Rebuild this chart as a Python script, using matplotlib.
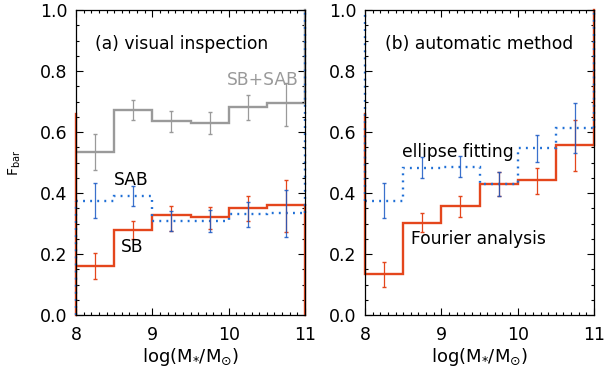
import numpy as np
import matplotlib
matplotlib.use('Agg')
import matplotlib.pyplot as plt
from matplotlib.ticker import MultipleLocator

# bins in log(M*/Msun)
edges = [8.0, 8.5, 9.0, 9.5, 10.0, 10.5, 11.0]
centers = [8.25, 8.75, 9.25, 9.75, 10.25, 10.75]

# (a) visual inspection
a_sbsab = [0.533, 0.672, 0.636, 0.631, 0.683, 0.696]
a_sbsab_lo = [0.475, 0.639, 0.601, 0.592, 0.639, 0.620]
a_sbsab_hi = [0.592, 0.705, 0.669, 0.667, 0.721, 0.760]

a_sab = [0.375, 0.391, 0.309, 0.309, 0.330, 0.333]
a_sab_lo = [0.317, 0.358, 0.276, 0.273, 0.287, 0.255]
a_sab_hi = [0.432, 0.424, 0.341, 0.344, 0.371, 0.410]

a_sb = [0.162, 0.279, 0.328, 0.320, 0.350, 0.361]
a_sb_lo = [0.117, 0.248, 0.275, 0.282, 0.309, 0.273]
a_sb_hi = [0.202, 0.309, 0.358, 0.355, 0.391, 0.443]

# (b) automatic method
b_four = [0.134, 0.303, 0.357, 0.428, 0.443, 0.556]
b_four_lo = [0.093, 0.271, 0.322, 0.390, 0.397, 0.473]
b_four_hi = [0.173, 0.333, 0.390, 0.468, 0.483, 0.639]

b_ell = [0.375, 0.483, 0.486, 0.430, 0.546, 0.612]
b_ell_lo = [0.317, 0.448, 0.453, 0.390, 0.502, 0.530]
b_ell_hi = [0.432, 0.517, 0.522, 0.468, 0.590, 0.694]

# vertical end segments drawn along the frame in the original (x, y0, y1)
a_red_ends = [(8.0, 0.0, 0.66), (11.0, 0.0, 0.361)]
a_blue_ends = [(8.0, 0.0, 0.375), (11.0, 0.333, 1.0)]
a_gray_ends = [(11.0, 0.696, 1.0)]
b_red_ends = [(8.0, 0.134, 0.66), (11.0, 0.556, 1.0)]
b_blue_ends = [(8.0, 0.375, 1.0), (11.0, 0.612, 1.0)]

RED = '#e4461c'
BLUE = '#1f6fd6'
BLUE_ERR = '#1858c4'
GRAY = '#9a9a9a'
DOTS = (0, (0.8, 2.2))
FS = 12.3

plt.rcParams['font.family'] = 'DejaVu Sans'
plt.rcParams['mathtext.fontset'] = 'dejavusans'

fig = plt.figure(figsize=(6.05, 3.75), dpi=100)
axa = fig.add_axes([76 / 605, 1 - 315 / 375, 229 / 605, 305 / 375])
axb = fig.add_axes([365 / 605, 1 - 315 / 375, 229 / 605, 305 / 375])


def errs(v, lo, hi):
    v = np.array(v)
    return [v - np.array(lo), np.array(hi) - v]


def ends(ax, segs, **kw):
    for x, y0, y1 in segs:
        ax.plot([x, x], [y0, y1], clip_on=False, **kw)


# panel a
axa.stairs(a_sbsab, edges, baseline=None, color=GRAY, lw=1.7)
axa.errorbar(centers, a_sbsab, yerr=errs(a_sbsab, a_sbsab_lo, a_sbsab_hi),
             fmt='none', ecolor=GRAY, elinewidth=0.9, capsize=1.5)
ends(axa, a_gray_ends, color=GRAY, lw=1.7)
axa.stairs(a_sb, edges, baseline=None, color=RED, lw=1.7)
axa.errorbar(centers, a_sb, yerr=errs(a_sb, a_sb_lo, a_sb_hi),
             fmt='none', ecolor=RED, elinewidth=0.9, capsize=1.5)
ends(axa, a_red_ends, color=RED, lw=1.7)
axa.stairs(a_sab, edges, baseline=None, color=BLUE, lw=1.7, linestyle=DOTS)
axa.errorbar(centers, a_sab, yerr=errs(a_sab, a_sab_lo, a_sab_hi),
             fmt='none', ecolor=BLUE_ERR, elinewidth=0.9, capsize=1.5, alpha=0.85)
ends(axa, a_blue_ends, color=BLUE, lw=1.7, linestyle=DOTS)

axa.text(8.25, 0.889, '(a) visual inspection', fontsize=FS, va='center')
axa.text(10.45, 0.77, 'SB+SAB', fontsize=FS, color=GRAY, ha='center', va='center')
axa.text(8.72, 0.443, 'SAB', fontsize=FS, ha='center', va='center')
axa.text(8.73, 0.223, 'SB', fontsize=FS, ha='center', va='center')

# panel b
axb.stairs(b_four, edges, baseline=None, color=RED, lw=1.7)
axb.errorbar(centers, b_four, yerr=errs(b_four, b_four_lo, b_four_hi),
             fmt='none', ecolor=RED, elinewidth=0.9, capsize=1.5)
ends(axb, b_red_ends, color=RED, lw=1.7)
axb.stairs(b_ell, edges, baseline=None, color=BLUE, lw=1.7, linestyle=DOTS)
axb.errorbar(centers, b_ell, yerr=errs(b_ell, b_ell_lo, b_ell_hi),
             fmt='none', ecolor=BLUE_ERR, elinewidth=0.9, capsize=1.5, alpha=0.85)
ends(axb, b_blue_ends, color=BLUE, lw=1.7, linestyle=DOTS)

axb.text(8.26, 0.889, '(b) automatic method', fontsize=FS, va='center')
axb.text(9.22, 0.534, 'ellipse fitting', fontsize=FS, ha='center', va='center')
axb.text(9.49, 0.249, 'Fourier analysis', fontsize=FS, ha='center', va='center')

for ax in (axa, axb):
    ax.set_xlim(8, 11)
    ax.set_ylim(0, 1)
    ax.xaxis.set_major_locator(MultipleLocator(1))
    ax.xaxis.set_minor_locator(MultipleLocator(0.1))
    ax.yaxis.set_major_locator(MultipleLocator(0.2))
    ax.yaxis.set_minor_locator(MultipleLocator(0.05))
    ax.set_yticks([0, 0.2, 0.4, 0.6, 0.8, 1.0])
    ax.set_yticklabels(['0.0', '0.2', '0.4', '0.6', '0.8', '1.0'])
    ax.tick_params(which='both', direction='in', top=True, right=True, width=0.8)
    ax.tick_params(which='major', length=5, labelsize=12.5)
    ax.tick_params(which='minor', length=2.5)
    ax.tick_params(axis='x', pad=8)
    ax.tick_params(axis='y', pad=6)
    for s in ax.spines.values():
        s.set_linewidth(0.9)
    ax.set_xlabel(r'log(M$_{*}$/M$_{\odot}$)', fontsize=13, labelpad=1)

axa.set_ylabel(r'F$_{\rm bar}$', fontsize=10, labelpad=12)

fig.savefig('out.png', dpi=100)
